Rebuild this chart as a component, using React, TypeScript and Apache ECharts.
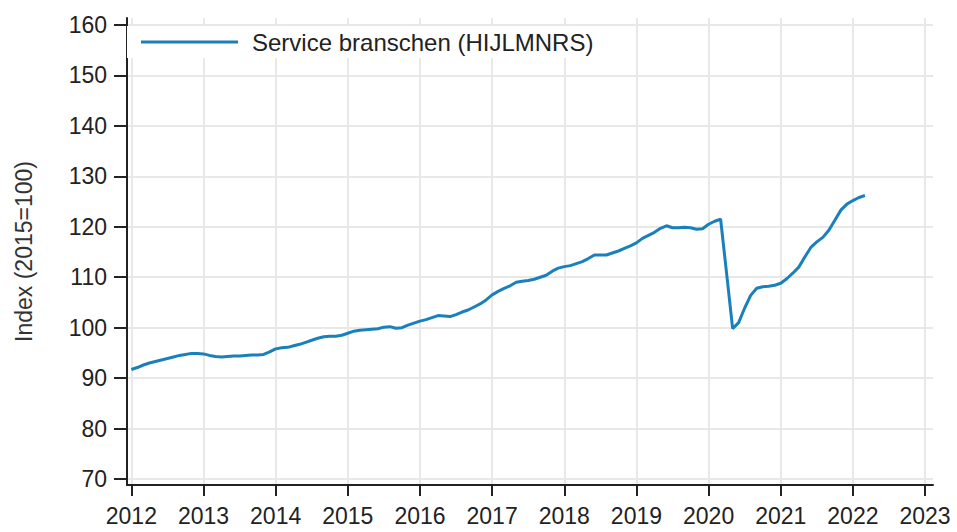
import React, { useEffect, useRef } from "react";
import * as echarts from "echarts";

const seriesName = "Service branschen (HIJLMNRS)";
const startYear = 2012;
// Monthly values, Jan 2012 .. Mar 2022
const values2012 = [91.7, 92.1, 92.6, 93.0, 93.3, 93.6, 93.9, 94.2, 94.5, 94.7, 94.9, 94.9];
const values2013 = [94.8, 94.5, 94.3, 94.2, 94.3, 94.4, 94.4, 94.5, 94.6, 94.6, 94.7, 95.2];
const values2014 = [95.8, 96.0, 96.1, 96.4, 96.7, 97.1, 97.5, 97.9, 98.2, 98.3, 98.3, 98.5];
const values2015 = [98.9, 99.3, 99.5, 99.6, 99.7, 99.8, 100.1, 100.2, 99.9, 100.0, 100.5, 100.9];
const values2016 = [101.3, 101.6, 102.0, 102.4, 102.3, 102.2, 102.6, 103.1, 103.5, 104.1, 104.7, 105.5];
const values2017 = [106.5, 107.2, 107.8, 108.3, 109.0, 109.2, 109.35, 109.6, 110.0, 110.4, 111.2, 111.8];
const values2018 = [112.1, 112.3, 112.7, 113.1, 113.7, 114.4, 114.4, 114.4, 114.8, 115.2, 115.7, 116.2];
const values2019 = [116.8, 117.7, 118.3, 118.9, 119.7, 120.2, 119.8, 119.8, 119.9, 119.8, 119.5, 119.6];
const values2020 = [120.5, 121.1, 121.5, 110.7, 99.8, 101.0, 103.9, 106.4, 107.8, 108.1, 108.2, 108.4];
const values2021 = [108.8, 109.7, 110.8, 112.0, 114.0, 115.9, 117.0, 117.9, 119.3, 121.3, 123.3, 124.5];
const values2022 = [125.2, 125.8, 126.2];

const yearTicks = [2012, 2013, 2014, 2015, 2016, 2017, 2018, 2019, 2020, 2021, 2022, 2023];
const valueTicks = [70, 80, 90, 100, 110, 120, 130, 140, 150, 160];
const yTitle = "Index (2015=100)";

const allValues = [
  ...values2012, ...values2013, ...values2014, ...values2015, ...values2016, ...values2017,
  ...values2018, ...values2019, ...values2020, ...values2021, ...values2022,
];

export default function App() {
  const ref = useRef<HTMLDivElement>(null);
  useEffect(() => {
    if (!ref.current) return;
    const chart = echarts.init(ref.current, undefined, { renderer: "svg" });
    const data = allValues.map((v, i) => [startYear + i / 12, v]);
    const font = "'Liberation Sans', Arial, sans-serif";
    chart.setOption({
      animation: false,
      backgroundColor: "#ffffff",
      grid: { left: 127, right: 24, top: 18, bottom: 47, containLabel: false },
      legend: {
        show: true,
        data: [seriesName],
        left: 127,
        top: 26,
        padding: [4, 10, 4, 14],
        backgroundColor: "#ffffff",
        icon: "rect",
        itemWidth: 97,
        itemHeight: 3,
        selectedMode: false,
        textStyle: { fontSize: 24, color: "#222", fontFamily: font, padding: [0, 0, 0, 9] },
      },
      xAxis: {
        type: "value",
        min: 2011.94,
        max: 2023.11,
        axisLine: { show: true, lineStyle: { color: "#222", width: 2 } },
        axisTick: { show: true, length: 11, lineStyle: { color: "#222", width: 2 }, customValues: yearTicks },
        axisLabel: {
          customValues: yearTicks,
          fontSize: 23,
          color: "#222",
          fontFamily: font,
          margin: 19,
          formatter: (v: number) => String(Math.round(v)),
        },
        splitLine: { show: true, lineStyle: { color: "#e8e8e8", width: 2 } },
      },
      yAxis: {
        type: "value",
        min: 68.81,
        max: 161.39,
        name: yTitle,
        nameLocation: "middle",
        nameGap: 92,
        nameTextStyle: { fontSize: 23, color: "#333", fontFamily: font },
        axisLine: { show: true, lineStyle: { color: "#222", width: 2 } },
        axisTick: { show: true, length: 13, lineStyle: { color: "#222", width: 2 }, customValues: valueTicks },
        axisLabel: {
          customValues: valueTicks,
          fontSize: 23,
          color: "#222",
          fontFamily: font,
          margin: 20,
          formatter: (v: number) => String(Math.round(v)),
        },
        splitLine: { show: true, lineStyle: { color: "#e8e8e8", width: 2 } },
      },
      series: [
        {
          name: seriesName,
          type: "line",
          data,
          showSymbol: false,
          symbol: "none",
          color: "#1a80bb",
          lineStyle: { color: "#1a80bb", width: 3 },
        },
      ],
    });
    return () => chart.dispose();
  }, []);
  return <div ref={ref} style={{ width: 957, height: 532, position: "fixed", left: 0, top: 0 }} />;
}
